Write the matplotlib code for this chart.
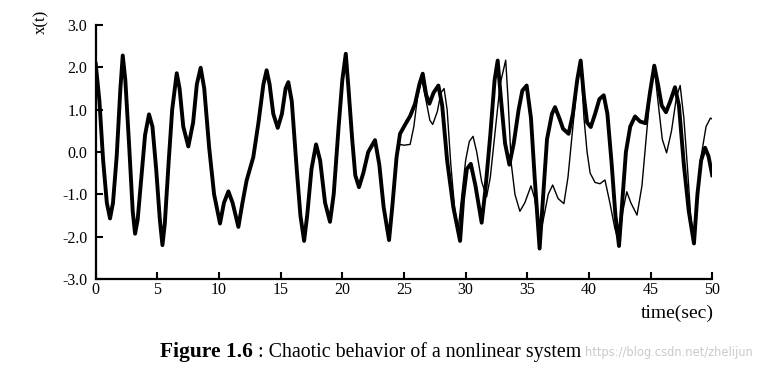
import matplotlib
matplotlib.use("Agg")
import matplotlib.pyplot as plt

plt.rcParams['axes.unicode_minus'] = False
plt.rcParams['font.family'] = ['Liberation Serif', 'DejaVu Serif']

# common trajectory (both runs identical until ~24.4 s)
t_common = [0.0, 0.3, 0.6, 0.9, 1.16, 1.4, 1.7, 2.0, 2.19, 2.4, 2.7, 3.0, 3.19, 3.4, 3.7, 4.0,
            4.32, 4.6, 4.9, 5.2, 5.41, 5.6, 5.9, 6.2, 6.57, 6.8, 7.1, 7.51, 7.9, 8.2, 8.51, 8.8,
            9.2, 9.6, 10.08, 10.4, 10.76, 11.1, 11.57, 11.9, 12.24, 12.78, 13.2, 13.6, 13.86,
            14.1, 14.4, 14.76, 15.1, 15.4, 15.62, 15.9, 16.3, 16.6, 16.9, 17.15, 17.5, 17.87,
            18.2, 18.6, 19.0, 19.3, 19.7, 20.0, 20.28, 20.5, 20.8, 21.05, 21.35, 21.7, 22.1,
            22.65, 23.0, 23.35, 23.79, 24.05, 24.4]
x_common = [2.08, 1.2, -0.2, -1.2, -1.57, -1.2, -0.1, 1.5, 2.28, 1.7, 0.2, -1.4, -1.93, -1.6, -0.6, 0.4,
            0.89, 0.6, -0.4, -1.6, -2.2, -1.7, -0.3, 1.0, 1.86, 1.5, 0.6, 0.13, 0.7, 1.6, 1.99, 1.5,
            0.1, -1.0, -1.69, -1.2, -0.93, -1.2, -1.77, -1.2, -0.67, -0.12, 0.7, 1.6, 1.93,
            1.6, 0.9, 0.57, 0.9, 1.5, 1.65, 1.2, -0.4, -1.5, -2.1, -1.5, -0.4, 0.18,
            -0.2, -1.2, -1.65, -1.0, 0.6, 1.7, 2.32, 1.5, 0.3, -0.55, -0.83, -0.5, 0.0,
            0.28, -0.3, -1.3, -2.08, -1.3, -0.12]

# thick curve after divergence
t_thick = [24.68, 25.1, 25.5, 25.9, 26.25, 26.52, 26.8, 27.06, 27.4, 27.79, 28.1, 28.5, 29.0,
           29.55, 29.8, 30.1, 30.42, 30.8, 31.3, 31.6, 32.0, 32.35, 32.6, 32.85, 33.2, 33.55,
           33.9, 34.3, 34.6, 34.95, 35.3, 35.6, 36.0, 36.3, 36.6, 37.0, 37.25, 37.6, 37.9,
           38.35, 38.7, 39.05, 39.33, 39.6, 39.85, 40.15, 40.5, 40.85, 41.2, 41.5, 41.85,
           42.15, 42.44, 42.7, 43.0, 43.35, 43.74, 44.15, 44.6, 44.95, 45.3, 45.6, 45.9,
           46.25, 46.6, 46.98, 47.3, 47.7, 48.1, 48.52, 48.8, 49.1, 49.42, 49.7, 50.0]
x_thick = [0.43, 0.65, 0.85, 1.14, 1.6, 1.85, 1.35, 1.14, 1.4, 1.57, 1.1, -0.2, -1.3,
           -2.1, -1.1, -0.4, -0.28, -0.8, -1.67, -0.9, 0.4, 1.7, 2.16, 1.3, 0.2, -0.3,
           0.2, 1.0, 1.45, 1.57, 0.8, -0.6, -2.28, -1.0, 0.3, 0.9, 1.06, 0.8, 0.55,
           0.43, 0.9, 1.7, 2.16, 1.3, 0.7, 0.59, 0.9, 1.25, 1.34, 0.9, -0.3,
           -1.5, -2.22, -1.2, 0.0, 0.6, 0.84, 0.72, 0.68, 1.4, 2.04, 1.6, 1.1,
           0.94, 1.2, 1.53, 1.1, -0.3, -1.4, -2.16, -1.0, -0.2, 0.1, -0.1, -0.55]

# thin curve after divergence
t_thin = [24.68, 25.0, 25.5, 25.8, 26.1, 26.44, 26.8, 27.1, 27.33, 27.7, 28.0, 28.25, 28.5,
          28.8, 29.1, 29.4, 29.7, 30.0, 30.3, 30.6, 30.9, 31.3, 31.7, 32.0, 32.4, 32.8,
          33.25, 33.45, 33.7, 34.0, 34.4, 34.8, 35.3, 35.6, 36.0, 36.3, 36.7, 37.06, 37.5,
          37.97, 38.3, 38.7, 39.0, 39.33, 39.6, 39.85, 40.1, 40.5, 40.9, 41.3, 41.7, 42.1,
          42.44, 42.75, 43.07, 43.4, 43.9, 44.3, 44.7, 45.0, 45.3, 45.6, 45.95, 46.3,
          46.7, 47.1, 47.4, 47.7, 48.0, 48.25, 48.5, 48.75, 49.1, 49.5, 49.85, 50.0]
x_thin = [0.18, 0.16, 0.18, 0.6, 1.3, 1.72, 1.2, 0.75, 0.65, 0.95, 1.4, 1.5, 1.0,
          -0.3, -1.3, -1.84, -1.0, -0.2, 0.25, 0.37, 0.0, -0.7, -1.06, -0.6, 0.5, 1.6,
          2.17, 1.2, -0.27, -1.0, -1.4, -1.2, -0.8, -1.1, -2.0, -1.6, -1.0, -0.78, -1.1,
          -1.22, -0.6, 0.6, 1.5, 2.1, 0.8, 0.0, -0.5, -0.72, -0.75, -0.66, -1.2, -1.8,
          -2.15, -1.4, -0.94, -1.2, -1.49, -0.8, 0.5, 1.5, 2.0, 1.2, 0.3, -0.02,
          0.5, 1.3, 1.57, 0.8, -0.4, -1.5, -2.08, -1.2, -0.1, 0.6, 0.8, 0.78]

x_ticks = [0, 5, 10, 15, 20, 25, 30, 35, 40, 45, 50]
y_ticks = [-3.0, -2.0, -1.0, 0.0, 1.0, 2.0, 3.0]

fig = plt.figure(figsize=(7.58, 3.73), dpi=100)
ax = fig.add_axes([0.1263, 0.252, 0.8133, 0.681])

ax.plot(t_common + t_thin, x_common + x_thin, color='black', lw=1.0, solid_joinstyle='round')
ax.plot(t_common + t_thick, x_common + x_thick, color='black', lw=2.8, solid_joinstyle='round')

ax.set_xlim(0, 50)
ax.set_ylim(-3.0, 3.0)
ax.set_xticks(x_ticks)
ax.set_xticklabels([str(v) for v in x_ticks])
ax.set_yticks(y_ticks)
ax.set_yticklabels(['%.1f' % v for v in y_ticks])
for s in ['top', 'right']:
    ax.spines[s].set_visible(False)
for s in ['left', 'bottom']:
    ax.spines[s].set_linewidth(1.6)
ax.tick_params(direction='in', length=5, width=1.5, labelsize=11.5)
ax.tick_params(axis='y', pad=6)
ax.tick_params(axis='x', pad=2)

fig.text(0.054, 0.941, 'x(t)', rotation=90, fontsize=12, ha='center', va='center')
fig.text(0.894, 0.161, 'time(sec)', fontsize=14, ha='center', va='center')

renderer = None
t1 = fig.text(0.211, 0.056, 'Figure 1.6', fontsize=15.5, fontweight='bold', ha='left', va='center')
fig.canvas.draw()
renderer = fig.canvas.get_renderer()
bb = t1.get_window_extent(renderer=renderer)
x_end = bb.x1 / fig.bbox.width
t2 = fig.text(x_end, 0.056, ' : Chaotic behavior of a nonlinear system', fontsize=14.3,
              ha='left', va='center')
fig.canvas.draw()
bb2 = t2.get_window_extent(renderer=fig.canvas.get_renderer())
x_end2 = (bb2.x1 + 4) / fig.bbox.width
fig.text(x_end2, 0.056, 'https://blog.csdn.net/zhelijun', fontsize=8.3, color='#c4c4c4',
         ha='left', va='center', family=['DejaVu Sans'], alpha=0.9)

fig.savefig('out.png', dpi=100)
